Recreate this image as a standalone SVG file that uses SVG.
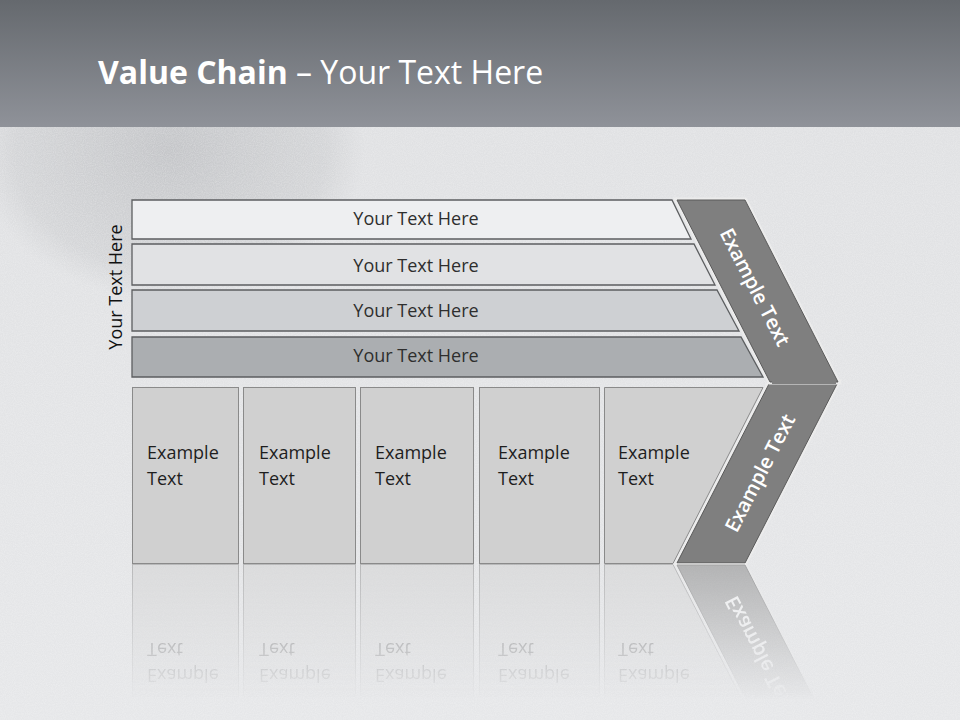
<svg xmlns="http://www.w3.org/2000/svg" xmlns:xlink="http://www.w3.org/1999/xlink" width="960" height="720" viewBox="0 0 960 720">
  <defs>
    <linearGradient id="hdr" x1="0" y1="0" x2="0" y2="1">
      <stop offset="0" stop-color="#65696e"/>
      <stop offset="1" stop-color="#8f9299"/>
    </linearGradient>
    <linearGradient id="ground" x1="0" y1="0" x2="0" y2="1">
      <stop offset="0" stop-color="#c9cacd"/>
      <stop offset="0.15" stop-color="#e0e1e3"/>
      <stop offset="1" stop-color="#e6e7e9"/>
    </linearGradient>
    <radialGradient id="sphere" cx="0.5" cy="0.5" r="0.5">
      <stop offset="0" stop-color="#9a9ca0" stop-opacity="0.4"/>
      <stop offset="0.8" stop-color="#a8aaad" stop-opacity="0.22"/>
      <stop offset="1" stop-color="#b0b2b5" stop-opacity="0"/>
    </radialGradient>
    <filter id="noise" x="0" y="0" width="100%" height="100%">
      <feTurbulence type="fractalNoise" baseFrequency="0.9" numOctaves="2" seed="3"/>
      <feColorMatrix type="matrix" values="0 0 0 0 1  0 0 0 0 1  0 0 0 0 1  0 0 0 -1.6 1.1"/>
    </filter>
    <linearGradient id="fade" x1="0" y1="563" x2="0" y2="700" gradientUnits="userSpaceOnUse">
      <stop offset="0" stop-color="#fff" stop-opacity="0.5"/>
      <stop offset="1" stop-color="#fff" stop-opacity="0"/>
    </linearGradient>
    <mask id="reflMask" maskUnits="userSpaceOnUse" x="0" y="560" width="960" height="160">
      <rect x="0" y="563" width="960" height="157" fill="url(#fade)"/>
    </mask>
    <style>
      .band { stroke: #5c5e60; stroke-width: 1.3; }
      .bt { font-family: "Open Sans", "Liberation Sans", sans-serif; font-size: 18px; fill: #2e2e2e; text-anchor: middle; }
      .box { fill: #d0d0d0; stroke: #8a8a8a; stroke-width: 1; }
      .xt { font-family: "Open Sans", "Liberation Sans", sans-serif; font-size: 18px; fill: #1e1e1e; }
      .ct { font-family: "Open Sans", "Liberation Sans", sans-serif; font-size: 20px; font-weight: 600; fill: #ffffff; text-anchor: middle; }
      .rim { fill: none; stroke: #ececec; stroke-width: 5; stroke-linejoin: miter; }
      .chev { fill: #7f7f7f; stroke: #5a5a5a; stroke-width: 1; }
    </style>
  </defs>

  <!-- background -->
  <rect x="0" y="0" width="960" height="720" fill="url(#ground)"/>
  <ellipse cx="170" cy="150" rx="195" ry="150" fill="url(#sphere)"/>
  <rect x="0" y="125" width="960" height="595" filter="url(#noise)" opacity="0.25"/>
  <rect x="0" y="0" width="960" height="127" fill="url(#hdr)"/>

  <!-- title -->
  <text x="98" y="84" font-family="'Open Sans', 'Liberation Sans', sans-serif" font-size="32" fill="#ffffff"><tspan font-weight="bold">Value Chain</tspan> – Your Text Here</text>

  <!-- side label -->
  <g id="side-label">
    <text transform="translate(122,287) rotate(-90)" class="bt" style="fill:#111">Your Text Here</text>
  </g>

  <!-- bands -->
  <g id="band1">
    <polygon class="band" fill="#eeeff1" points="132,200 672,200 691,239 132,239"/>
    <text class="bt" x="416" y="225">Your Text Here</text>
  </g>
  <g id="band2">
    <polygon class="band" fill="#e1e2e4" points="132,244 694,244 715,285 132,285"/>
    <text class="bt" x="416" y="272">Your Text Here</text>
  </g>
  <g id="band3">
    <polygon class="band" fill="#ced0d3" points="132,290 717,290 739,331 132,331"/>
    <text class="bt" x="416" y="317">Your Text Here</text>
  </g>
  <g id="band4">
    <polygon class="band" fill="#abaeb1" points="132,337 741,337 763,377 132,377"/>
    <text class="bt" x="416" y="362">Your Text Here</text>
  </g>

  <!-- bottom boxes + chevron bottom (reflected) -->
  <g id="lower">
    <g id="box1">
      <rect class="box" x="132.5" y="387.5" width="106" height="176"/>
      <text class="xt" x="147" y="459">Example</text>
      <text class="xt" x="147" y="485">Text</text>
    </g>
    <g id="box2">
      <rect class="box" x="243.5" y="387.5" width="112" height="176"/>
      <text class="xt" x="259" y="459">Example</text>
      <text class="xt" x="259" y="485">Text</text>
    </g>
    <g id="box3">
      <rect class="box" x="360.5" y="387.5" width="113" height="176"/>
      <text class="xt" x="375" y="459">Example</text>
      <text class="xt" x="375" y="485">Text</text>
    </g>
    <g id="box4">
      <rect class="box" x="479.5" y="387.5" width="120" height="176"/>
      <text class="xt" x="498" y="459">Example</text>
      <text class="xt" x="498" y="485">Text</text>
    </g>
    <g id="box5">
      <polygon class="box" points="604.5,387.5 763,387.5 673,563.5 604.5,563.5"/>
      <text class="xt" x="618" y="459">Example</text>
      <text class="xt" x="618" y="485">Text</text>
    </g>
    <g id="chevron-bottom">
      <polygon class="rim" points="770,382 838,382 745,563 677,563"/>
      <polygon class="chev" points="770,382 838,382 745,563 677,563"/>
      <text class="ct" transform="translate(760,473) rotate(-62.8)" dy="7">Example Text</text>
    </g>
  </g>

  <!-- chevron top -->
  <g id="chevron-top">
    <polygon class="rim" points="677,200 745,200 838,382 770,382"/>
    <polygon class="chev" points="677,200 745,200 838,382 770,382"/>
    <polygon fill="#7f7f7f" points="772,380 836,380 836,384 772,384"/>
    <text class="ct" transform="translate(755,287) rotate(62.8)" dy="7">Example Text</text>
  </g>

  <!-- reflection -->
  <g id="reflection" mask="url(#reflMask)">
    <use xlink:href="#lower" transform="translate(0,1128) scale(1,-1)"/>
  </g>
</svg>
